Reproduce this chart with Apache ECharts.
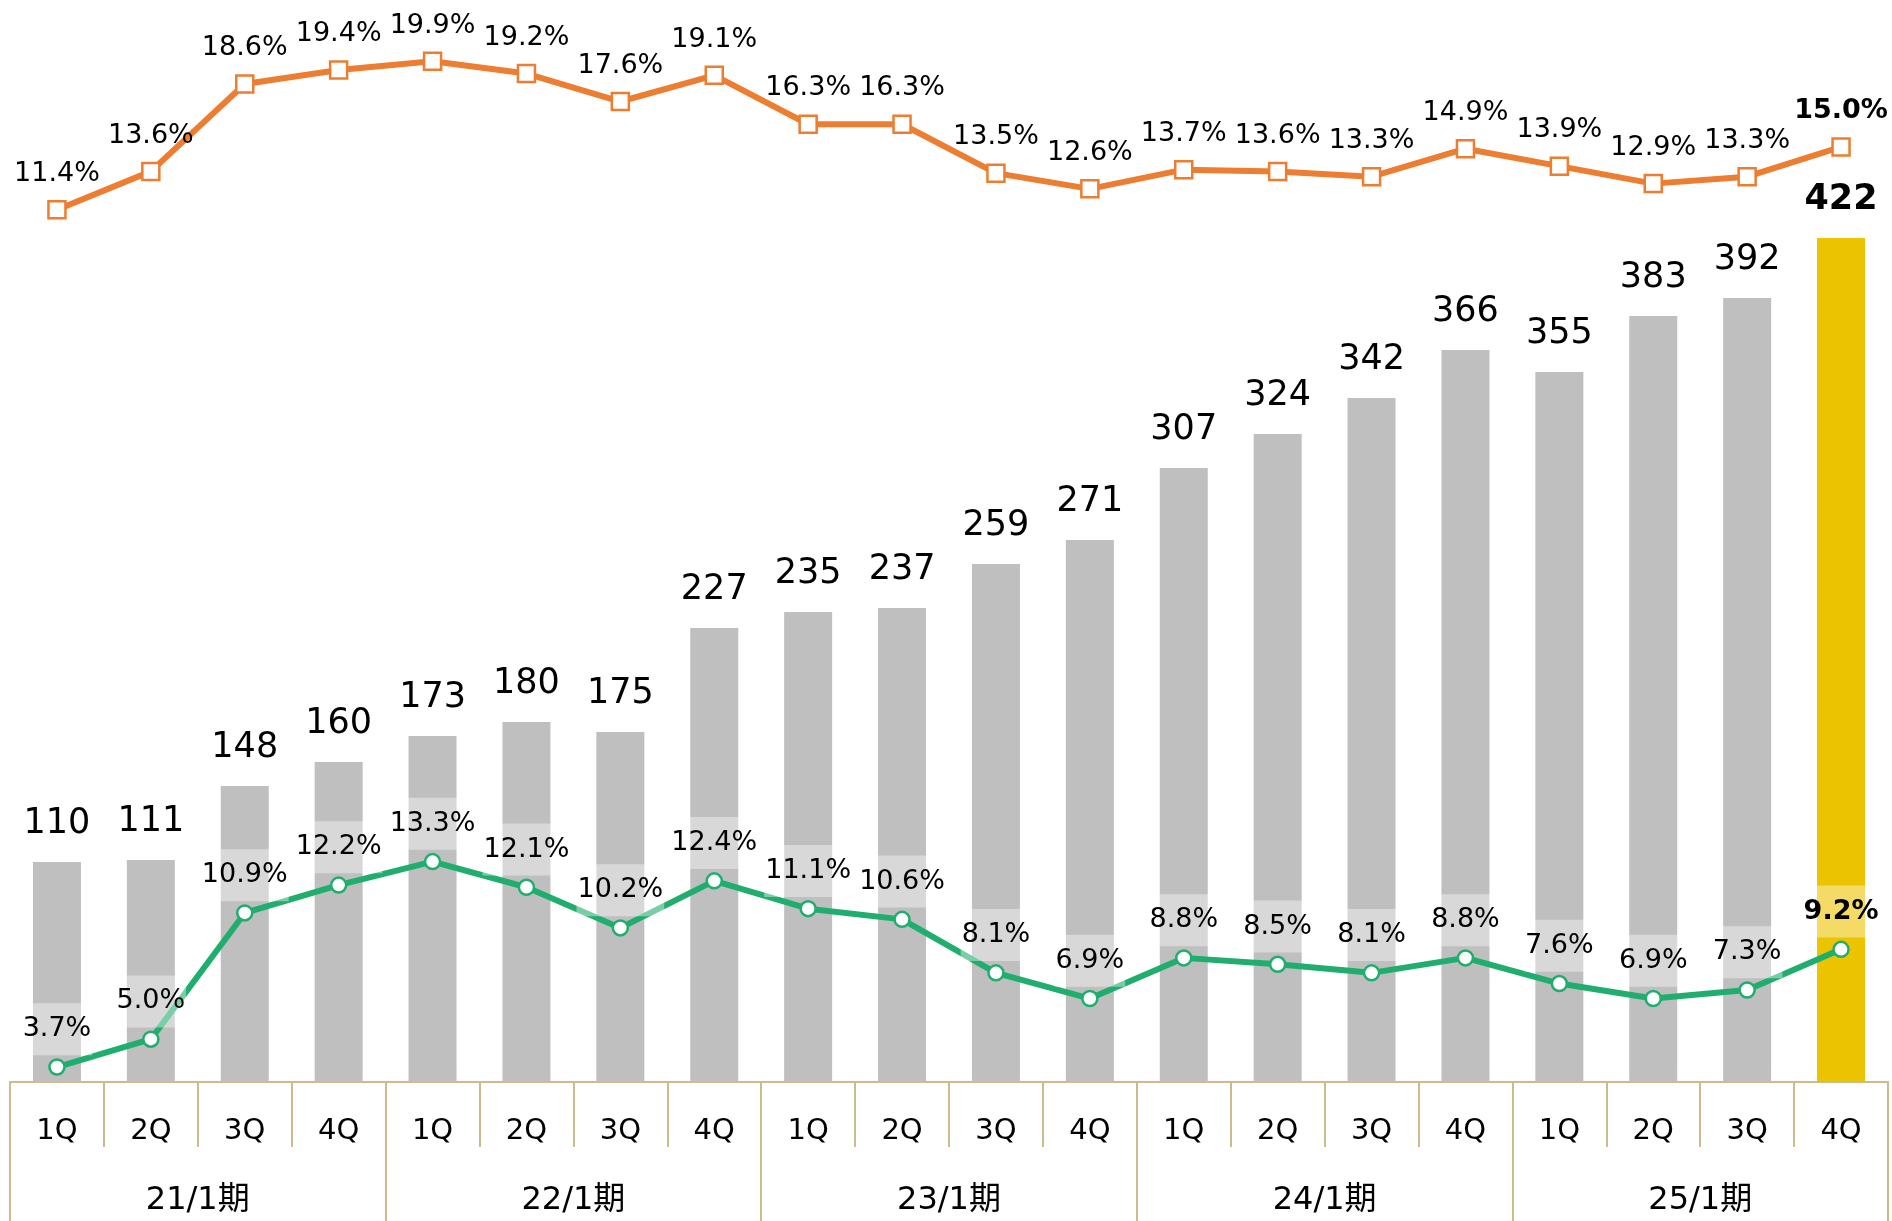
<!DOCTYPE html>
<html>
<head>
<meta charset="utf-8">
<script src="https://cdn.jsdelivr.net/npm/echarts@6/dist/echarts.min.js"></script>
<style>
html,body{margin:0;padding:0;background:#fff;}
#chart{width:1892px;height:1221px;}
</style>
</head>
<body>
<div id="chart"></div>
<script>
const quarters = ['1Q','2Q','3Q','4Q','1Q','2Q','3Q','4Q','1Q','2Q','3Q','4Q','1Q','2Q','3Q','4Q','1Q','2Q','3Q','4Q'];
const periods = ['21/1期','22/1期','23/1期','24/1期','25/1期'];
const barValues = [110,111,148,160,173,180,175,227,235,237,259,271,307,324,342,366,355,383,392,422];
const greenRates = [3.7,5.0,10.9,12.2,13.3,12.1,10.2,12.4,11.1,10.6,8.1,6.9,8.8,8.5,8.1,8.8,7.6,6.9,7.3,9.2];
const orangeRates = [11.4,13.6,18.6,19.4,19.9,19.2,17.6,19.1,16.3,16.3,13.5,12.6,13.7,13.6,13.3,14.9,13.9,12.9,13.3,15.0];

const FONT = '"DejaVu Sans", "Noto Sans CJK JP", sans-serif';
const TAN = '#CBBB8D';
const GRAY = '#BFBFBF';
const YELLOW = '#EBC300';
const GREEN = '#20AE6E';
const ORANGE = '#ED7D31';
const last = barValues.length - 1;

const chart = echarts.init(document.getElementById('chart'), null, {renderer:'canvas'});
chart.setOption({
  animation: false,
  backgroundColor: '#fff',
  grid: {left: 10, right: 4, top: 0, bottom: 139, containLabel: false},
  xAxis: [
    {
      type: 'category', data: quarters, position: 'bottom', boundaryGap: true,
      axisLine: {show: true, onZero: false, lineStyle: {color: TAN, width: 2}},
      axisTick: {show: true, length: 65, interval: 0, lineStyle: {color: TAN, width: 2}},
      axisLabel: {interval: 0, margin: 35, fontSize: 29, lineHeight: 29, color: '#000', fontFamily: FONT},
      splitLine: {show: false}
    },
    {
      type: 'category', data: periods, position: 'bottom', boundaryGap: true,
      axisLine: {show: true, onZero: false, lineStyle: {color: TAN, width: 2}},
      axisTick: {show: true, length: 139, interval: 0, lineStyle: {color: TAN, width: 2}},
      axisLabel: {interval: 0, margin: 103, fontSize: 32, lineHeight: 32, color: '#000', fontFamily: FONT},
      splitLine: {show: false}
    }
  ],
  yAxis: [
    {type: 'value', min: 0, max: 541, show: false},
    {type: 'value', min: 3, max: 53.56, show: false},
    {type: 'value', min: -38.52, max: 23.41, show: false}
  ],
  series: [
    {
      type: 'bar', xAxisIndex: 0, yAxisIndex: 0, barWidth: 48, z: 2,
      data: barValues.map((v, i) => i === last
        ? {value: v, itemStyle: {color: YELLOW}, label: {fontWeight: 'bold'}}
        : {value: v}),
      itemStyle: {color: GRAY},
      label: {show: true, position: 'top', distance: 20, fontSize: 35, lineHeight: 36, color: '#000', fontFamily: FONT}
    },
    {
      type: 'line', xAxisIndex: 0, yAxisIndex: 1, z: 4,
      data: greenRates.map((v, i) => i === last ? {value: v, label: {fontWeight: 'bold'}} : {value: v}),
      lineStyle: {color: GREEN, width: 6},
      itemStyle: {color: '#fff', borderColor: GREEN, borderWidth: 2.5},
      symbol: 'circle', symbolSize: 15, showAllSymbol: true,
      label: {
        show: true, position: 'top', distance: 3, fontSize: 27, lineHeight: 28,
        color: '#000', fontFamily: FONT,
        backgroundColor: 'rgba(255,255,255,0.4)', padding: [12, 1],
        formatter: p => p.value.toFixed(1) + '%'
      }
    },
    {
      type: 'line', xAxisIndex: 0, yAxisIndex: 2, z: 4,
      data: orangeRates.map((v, i) => i === last ? {value: v, label: {fontWeight: 'bold'}} : {value: v}),
      lineStyle: {color: ORANGE, width: 6},
      itemStyle: {color: '#fff', borderColor: ORANGE, borderWidth: 2.5},
      symbol: 'rect', symbolSize: 17, showAllSymbol: true,
      label: {
        show: true, position: 'top', distance: 12, fontSize: 27, lineHeight: 28,
        color: '#000', fontFamily: FONT,
        formatter: p => p.value.toFixed(1) + '%'
      }
    }
  ]
});
</script>
</body>
</html>
